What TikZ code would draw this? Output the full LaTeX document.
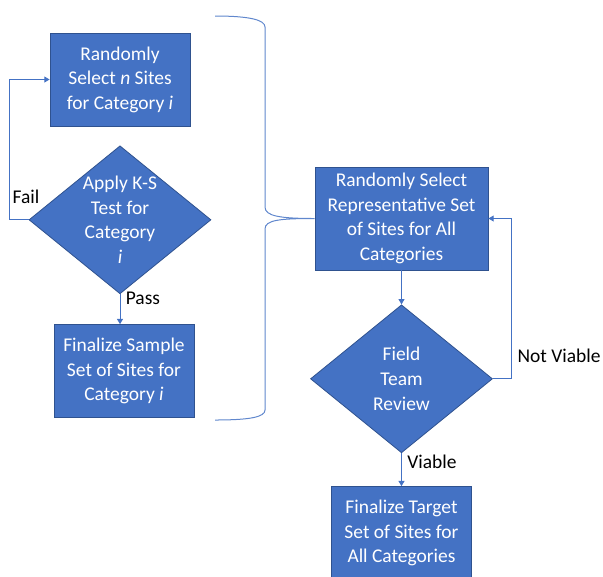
\documentclass[tikz,border=0pt]{standalone}
\usepackage{fontspec}
\setmainfont{Carlito}
\usetikzlibrary{positioning, arrows.meta, shapes.geometric, calc}
\definecolor{boxblue}{HTML}{4472C4}
\definecolor{boxedge}{HTML}{2F528F}

\begin{document}
\begin{tikzpicture}[
    x=0.75pt, y=-0.75pt,
    txt/.style={font=\fontsize{14.6}{18.4}\selectfont},
    block/.style={txt, draw=boxedge, line width=0.6pt, fill=boxblue, text=white,
                  align=center, minimum width=105pt, minimum height=69.75pt, inner sep=2pt},
    decision/.style={block, diamond, inner sep=-14pt, minimum width=136.5pt, minimum height=111pt},
    arrow/.style={-{Triangle[length=4pt, width=4.5pt]}, draw=boxblue, line width=0.75pt},
    bracket/.style={draw=boxblue!85, line width=0.75pt},
    edgelabel/.style={txt, text=black, inner sep=1pt},
]
\useasboundingbox (0,0) rectangle (603,576);

% left column
\node[block] (select) at (120,79.5) {Randomly\\Select \textit{n} Sites\\for Category \textit{i}};
\node[decision, below=14.25pt of select] (kstest) {Apply K-S\\Test for\\Category\\\textit{i}};
\node[block, below=22.5pt of kstest, xshift=3pt] (sample) {Finalize Sample\\Set of Sites for\\Category \textit{i}};

% right column
\node[block, minimum width=129.75pt, minimum height=77.25pt] (repset) at (401.5,218.5)
    {Randomly Select\\Representative Set\\of Sites for All\\Categories};
\node[decision, below=25.5pt of repset] (review) {Field\\Team\\Review};
\node[block, below=24.75pt of review] (target) {Finalize Target\\Set of Sites for\\All Categories};

% connectors
\draw[arrow] (kstest.west) -- ++(-19,0) |- (select.west);
\node[edgelabel] (fail) at (26,197) {Fail};
\draw[arrow] (kstest.south) -- node[edgelabel, pos=0.15, right=3pt] (pass) {Pass} (kstest.south |- sample.north);
\draw[arrow] (repset) -- (review);
\draw[arrow] (review.east) -- ++(19,0) |- (repset.east);
\node[edgelabel, anchor=west] (notviable) at (516,356) {Not Viable};
\draw[arrow] (review) -- node[edgelabel, pos=0.27, right=3pt] (viable) {Viable} (target);

% brace joining the left column to the right
\coordinate (bracetop) at (215,16);
\coordinate (bracebot) at (215,420);
\draw[bracket] (bracetop) .. controls +(35,0) and +(0,-7) .. (265,27) -- (265,207)
    .. controls +(0,9) and +(-35,0) .. (repset.west)
    .. controls +(-35,0) and +(0,-9) .. (265,229) -- (265,410)
    .. controls +(0,7) and +(35,0) .. (bracebot);

\end{tikzpicture}
\end{document}
